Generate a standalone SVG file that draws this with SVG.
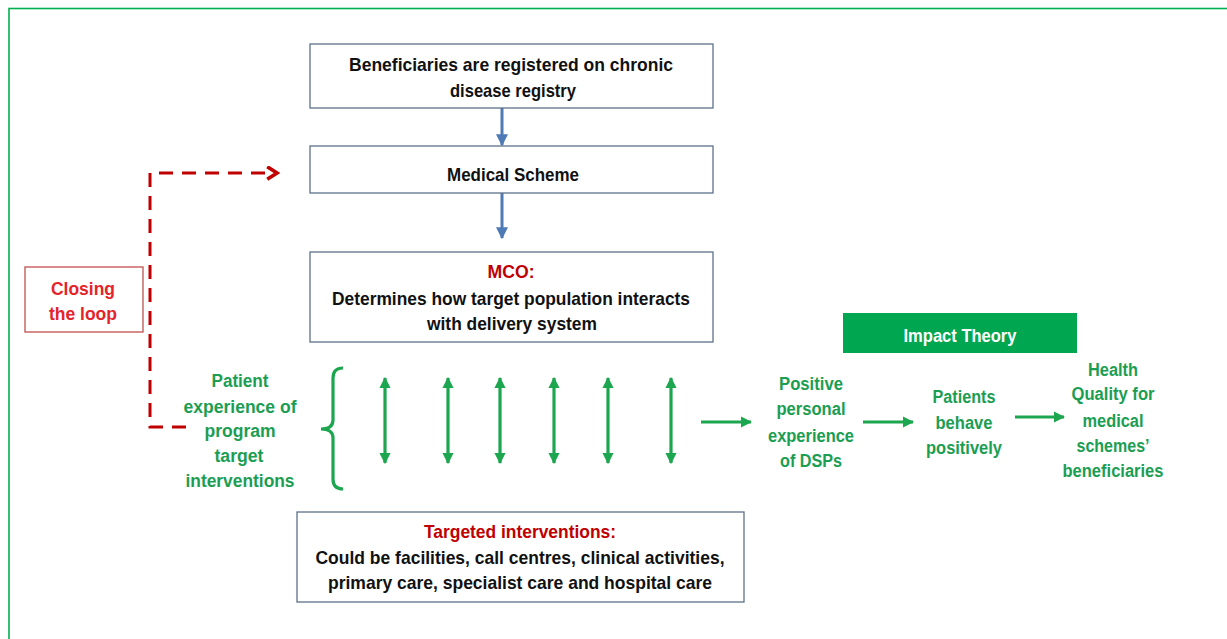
<svg xmlns="http://www.w3.org/2000/svg" width="1227" height="639" viewBox="0 0 1227 639">
  <defs>
    <style>
      .box { fill: #ffffff; stroke: #5d7189; stroke-width: 1.3; }
      .t { font-family: "Liberation Sans", Arial, sans-serif; font-weight: bold; text-anchor: middle; }
      .blk { fill: #111111; font-size: 19px; }
      .red { fill: #c00000; font-size: 19px; }
      .lred { fill: #e5232b; font-size: 19px; }
      .grn { fill: #1c9e52; font-size: 18px; }
      .wht { fill: #ffffff; font-size: 18px; }
      .blue { stroke: #4e7ab5; stroke-width: 3; fill: none; }
      .gline { stroke: #1ca64f; stroke-width: 3.2; fill: none; }
    </style>
    <marker id="ah-blue" viewBox="0 0 10 10" refX="9" refY="5" markerWidth="4" markerHeight="4" orient="auto" markerUnits="strokeWidth">
      <path d="M0,0 L10,5 L0,10 Z" fill="#4e7ab5"/>
    </marker>
    <marker id="ah-green" viewBox="0 0 10 10" refX="9" refY="5" markerWidth="3.6" markerHeight="3.6" orient="auto-start-reverse" markerUnits="strokeWidth">
      <path d="M0,0 L10,5 L0,10 Z" fill="#1ca64f"/>
    </marker>
    <marker id="ah-red" viewBox="0 0 10 10" refX="8" refY="5" markerWidth="5" markerHeight="5" orient="auto" markerUnits="strokeWidth">
      <path d="M1.5,0.8 L8,5 L1.5,9.2" fill="none" stroke="#c00000" stroke-width="2.4"/>
    </marker>
  </defs>

  <rect width="1227" height="639" fill="#ffffff"/>
  <!-- outer frame -->
  <rect x="9" y="8.5" width="1240" height="660" fill="none" stroke="#00b050" stroke-width="1.6"/>

  <!-- connectors -->
  <g id="connectors">
    <line class="blue" x1="502" y1="108" x2="502" y2="145" marker-end="url(#ah-blue)"/>
    <line class="blue" x1="502" y1="193" x2="502" y2="238" marker-end="url(#ah-blue)"/>
    <path d="M186 427 L150 427 L150 173 L277 173" fill="none" stroke="#c00000" stroke-width="3" stroke-dasharray="14 9" marker-end="url(#ah-red)"/>
    <!-- brace -->
    <path class="gline" d="M343 368 Q333 368 333 378 L333 420 Q333 429 321 429 Q333 429 333 438 L333 479 Q333 489 343 489"/>
    <line class="gline" x1="385" y1="378" x2="385" y2="463" marker-start="url(#ah-green)" marker-end="url(#ah-green)"/>
    <line class="gline" x1="448" y1="378" x2="448" y2="463" marker-start="url(#ah-green)" marker-end="url(#ah-green)"/>
    <line class="gline" x1="500" y1="378" x2="500" y2="463" marker-start="url(#ah-green)" marker-end="url(#ah-green)"/>
    <line class="gline" x1="554" y1="378" x2="554" y2="463" marker-start="url(#ah-green)" marker-end="url(#ah-green)"/>
    <line class="gline" x1="608" y1="378" x2="608" y2="463" marker-start="url(#ah-green)" marker-end="url(#ah-green)"/>
    <line class="gline" x1="671" y1="378" x2="671" y2="463" marker-start="url(#ah-green)" marker-end="url(#ah-green)"/>
    <line class="gline" x1="701" y1="422" x2="751" y2="422" marker-end="url(#ah-green)"/>
    <line class="gline" x1="863" y1="422" x2="913" y2="422" marker-end="url(#ah-green)"/>
    <line class="gline" x1="1015" y1="417" x2="1064" y2="417" marker-end="url(#ah-green)"/>
  </g>

  <g id="registry">
    <rect class="box" x="310" y="44" width="403" height="64"/>
    <text class="t blk" x="511" y="71" textLength="324" lengthAdjust="spacingAndGlyphs">Beneficiaries are registered on chronic</text>
    <text class="t blk" x="513" y="97" textLength="126" lengthAdjust="spacingAndGlyphs">disease registry</text>
  </g>

  <g id="scheme">
    <rect class="box" x="310" y="146" width="403" height="47"/>
    <text class="t blk" x="513" y="181" textLength="132" lengthAdjust="spacingAndGlyphs">Medical Scheme</text>
  </g>

  <g id="mco">
    <rect class="box" x="310" y="252" width="403" height="90"/>
    <text class="t red" x="511" y="278" textLength="47" lengthAdjust="spacingAndGlyphs">MCO:</text>
    <text class="t blk" x="511" y="305" textLength="358" lengthAdjust="spacingAndGlyphs">Determines how target population interacts</text>
    <text class="t blk" x="512" y="330" textLength="170" lengthAdjust="spacingAndGlyphs">with delivery system</text>
  </g>

  <g id="closing-loop">
    <rect x="25" y="267" width="118" height="65" fill="#ffffff" stroke="#c0504d" stroke-width="1.3"/>
    <text class="t lred" x="83" y="295" textLength="64" lengthAdjust="spacingAndGlyphs">Closing</text>
    <text class="t lred" x="83" y="320" textLength="68" lengthAdjust="spacingAndGlyphs">the loop</text>
  </g>

  <g id="patient-experience">
    <text class="t grn" x="240" y="387" textLength="57" lengthAdjust="spacingAndGlyphs">Patient</text>
    <text class="t grn" x="240" y="413" textLength="113" lengthAdjust="spacingAndGlyphs">experience of</text>
    <text class="t grn" x="240" y="437" textLength="71" lengthAdjust="spacingAndGlyphs">program</text>
    <text class="t grn" x="239" y="462" textLength="49" lengthAdjust="spacingAndGlyphs">target</text>
    <text class="t grn" x="240" y="487" textLength="109" lengthAdjust="spacingAndGlyphs">interventions</text>
  </g>

  <g id="targeted">
    <rect class="box" x="297" y="512" width="447" height="90"/>
    <text class="t red" x="520" y="538" textLength="192" lengthAdjust="spacingAndGlyphs">Targeted interventions:</text>
    <text class="t blk" x="520" y="564" textLength="409" lengthAdjust="spacingAndGlyphs">Could be facilities, call centres, clinical activities,</text>
    <text class="t blk" x="520" y="589" textLength="384" lengthAdjust="spacingAndGlyphs">primary care, specialist care and hospital care</text>
  </g>

  <g id="impact-theory">
    <rect x="843" y="313" width="234" height="40" fill="#00a650"/>
    <text class="t wht" x="960" y="342" textLength="113" lengthAdjust="spacingAndGlyphs">Impact Theory</text>
  </g>

  <g id="positive-experience">
    <text class="t grn" x="811" y="390" textLength="64" lengthAdjust="spacingAndGlyphs">Positive</text>
    <text class="t grn" x="811" y="415" textLength="69" lengthAdjust="spacingAndGlyphs">personal</text>
    <text class="t grn" x="811" y="442" textLength="86" lengthAdjust="spacingAndGlyphs">experience</text>
    <text class="t grn" x="811" y="467" textLength="62" lengthAdjust="spacingAndGlyphs">of DSPs</text>
  </g>

  <g id="patients-behave">
    <text class="t grn" x="964" y="403" textLength="63" lengthAdjust="spacingAndGlyphs">Patients</text>
    <text class="t grn" x="964" y="429" textLength="57" lengthAdjust="spacingAndGlyphs">behave</text>
    <text class="t grn" x="964" y="454" textLength="76" lengthAdjust="spacingAndGlyphs">positively</text>
  </g>

  <g id="health-quality">
    <text class="t grn" x="1113" y="376" textLength="50" lengthAdjust="spacingAndGlyphs">Health</text>
    <text class="t grn" x="1113" y="400" textLength="83" lengthAdjust="spacingAndGlyphs">Quality for</text>
    <text class="t grn" x="1113" y="427" textLength="61" lengthAdjust="spacingAndGlyphs">medical</text>
    <text class="t grn" x="1113" y="452" textLength="73" lengthAdjust="spacingAndGlyphs">schemes’</text>
    <text class="t grn" x="1113" y="477" textLength="101" lengthAdjust="spacingAndGlyphs">beneficiaries</text>
  </g>
</svg>
